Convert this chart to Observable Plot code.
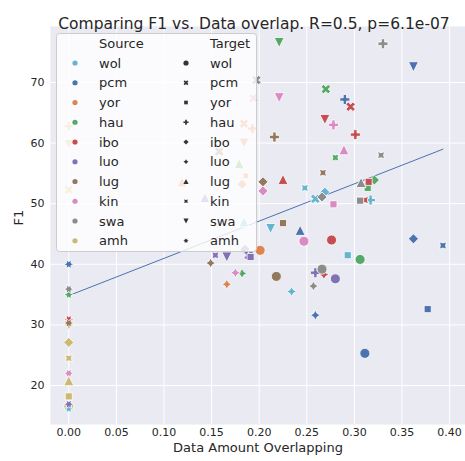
<!DOCTYPE html>
<html><head><meta charset="utf-8">
<script src="https://cdn.jsdelivr.net/npm/d3@7"></script>
<script src="https://cdn.jsdelivr.net/npm/@observablehq/plot@0.6"></script>
<style>body{margin:0;background:#fff;}</style>
</head><body><div id="chart"></div>
<script>
// ---- data ----
const sources = ["wol","pcm","yor","hau","ibo","luo","lug","kin","swa","amh"];
const targets = ["wol","pcm","yor","hau","ibo","luo","lug","kin","swa","amh"];
const sourceColors = ["#64B5CD","#4C72B0","#DD8452","#55A868","#C44E52","#8172B3","#937860","#DA8BC3","#8C8C8C","#CCB974"];
const xTicks = [0,0.05,0.10,0.15,0.20,0.25,0.30,0.35,0.40];
const yTicks = [20,30,40,50,60,70];
const titleText = "Comparing F1 vs. Data overlap. R=0.5, p=6.1e-07";
const xLabel = "Data Amount Overlapping";
const yLabel = "F1";

// points hidden under others at x = 0 (drawn first): [source, target, overlap, F1]
const hiddenAtZero = [["amh","wol",0,16.5],["yor","amh",0,30.6],["amh","luo",0,30.0]];

// [target, overlap, F1] per source language
const wol = [["amh",0,16.2],["swa",0.212,45.9],["kin",0.248,52.6],["pcm",0.259,50.8],["ibo",0.269,51.9],["hau",0.317,50.6],["yor",0.293,41.5],["luo",0.234,35.5],["lug",0.184,47.0]];
const pcm = [["amh",0,40.0],["swa",0.362,72.6],["hau",0.290,67.2],["lug",0.243,45.6],["ibo",0.362,44.2],["kin",0.393,43.1],["luo",0.259,31.6],["yor",0.377,32.6],["wol",0.311,25.3]];
const yor = [["pcm",0.184,63.2],["hau",0.193,62.4],["swa",0.184,60.0],["kin",0.186,54.6],["ibo",0.182,53.2],["lug",0.119,53.6],["wol",0.201,42.3],["luo",0.166,36.7]];
const hau = [["swa",0.221,76.6],["pcm",0.270,68.9],["lug",0.179,56.6],["kin",0.280,57.6],["ibo",0.321,53.9],["yor",0.314,52.6],["wol",0.306,40.8],["luo",0.182,38.5],["amh",0,35.0]];
const ibo = [["pcm",0.296,66.0],["swa",0.269,63.9],["hau",0.301,61.4],["lug",0.225,54.0],["yor",0.315,53.6],["kin",0.311,50.6],["wol",0.276,44.0],["luo",0.268,38.3],["amh",0,30.9]];
const luo = [["lug",0.143,51.0],["ibo",0.185,42.5],["kin",0.154,41.5],["swa",0.166,41.2],["pcm",0.189,41.5],["yor",0.191,41.2],["hau",0.259,38.6],["wol",0.280,37.6],["amh",0,16.9]];
const lug = [["hau",0.216,61.0],["kin",0.267,55.1],["ibo",0.204,53.6],["yor",0.225,46.8],["luo",0.149,40.2],["wol",0.218,38.0],["amh",0,30.3],["pcm",0.158,58.6]];
const kin = [["swa",0.221,67.5],["pcm",0.194,67.4],["hau",0.278,63.0],["lug",0.289,58.9],["ibo",0.204,52.1],["yor",0.278,49.9],["wol",0.247,43.8],["luo",0.175,38.6],["amh",0,22.0]];
const swa = [["hau",0.330,76.4],["pcm",0.197,70.4],["kin",0.328,58.0],["lug",0.307,53.5],["ibo",0.266,51.1],["yor",0.306,50.5],["wol",0.266,39.2],["luo",0.257,36.4],["amh",0,35.9]];
const amh = [["hau",0,62.8],["swa",0,59.8],["pcm",0,52.3],["ibo",0,27.1],["kin",0,24.5],["lug",0,20.8],["yor",0,18.2]];

const bySource = {wol, pcm, yor, hau, ibo, luo, lug, kin, swa, amh};
const points = hiddenAtZero.map(([s, t, x, y]) => ({source: s, target: t, overlap: x, f1: y}));
for (const s of sources) for (const [t, x, y] of bySource[s]) points.push({source: s, target: t, overlap: x, f1: y});

// ---- matplotlib-like marker symbols ----
function polySymbol(pts) {
  return {draw(ctx, size) {
    const r = Math.sqrt(size / Math.PI);
    pts.forEach(([x, y], i) => i ? ctx.lineTo(x * r, y * r) : ctx.moveTo(x * r, y * r));
    ctx.closePath();
  }};
}
function starPts(n, inner, rotDeg) {
  const pts = [];
  for (let i = 0; i < 2 * n; i++) {
    const a = Math.PI / 2 + i * Math.PI / n + rotDeg * Math.PI / 180;
    const rr = i % 2 ? inner : 1;
    pts.push([rr * Math.cos(a), -rr * Math.sin(a)]);
  }
  return pts;
}
const plusPts = [[-1,-3],[1,-3],[1,-1],[3,-1],[3,1],[1,1],[1,3],[-1,3],[-1,1],[-3,1],[-3,-1],[-1,-1]].map(([x, y]) => [x / 3, y / 3]);
const xPts = plusPts.map(([x, y]) => [(x - y) * Math.SQRT1_2, (x + y) * Math.SQRT1_2]);
const circleSym = {draw(ctx, size) { const r = Math.sqrt(size / Math.PI); ctx.moveTo(r, 0); ctx.arc(0, 0, r, 0, 2 * Math.PI); }};
const symbolsByTarget = [
  circleSym,                                   // wol  o
  polySymbol(xPts),                            // pcm  X
  polySymbol([[-0.7071,-0.7071],[0.7071,-0.7071],[0.7071,0.7071],[-0.7071,0.7071]]), // yor square
  polySymbol(plusPts),                         // hau  P
  polySymbol([[0,-1],[1,0],[0,1],[-1,0]]),     // ibo  diamond
  polySymbol(starPts(4, 0.5, 0)),              // luo  4-star
  polySymbol([[0,-1],[-1,1],[1,1]]),           // lug  ^
  polySymbol(starPts(4, 0.5, 45)),             // kin  4-star 45
  polySymbol([[0,1],[-1,-1],[1,-1]]),          // swa  v
  polySymbol(starPts(6, 0.5, 30))              // amh  6-star
];

const chart = Plot.plot({
  width: 465, height: 461,
  marginLeft: 50, marginRight: 0, marginTop: 26, marginBottom: 37,
  style: {fontFamily: "DejaVu Sans", fontSize: "11px", color: "#262626", background: "white"},
  x: {domain: [-0.0192, 0.4167]},
  y: {domain: [13.56, 79.24]},
  color: {domain: sources, range: sourceColors},
  symbol: {domain: targets, range: symbolsByTarget},
  marks: [
    Plot.frame({fill: "#EAEAF2", stroke: null}),
    Plot.gridX(xTicks, {stroke: "white", strokeOpacity: 1, strokeWidth: 1}),
    Plot.gridY(yTicks, {stroke: "white", strokeOpacity: 1, strokeWidth: 1}),
    Plot.axisX(xTicks, {tickSize: 0, tickPadding: 4, tickFormat: d3.format(".2f"), label: null}),
    Plot.axisY(yTicks, {tickSize: 0, tickPadding: 6, label: null}),
    Plot.linearRegressionY(points, {x: "overlap", y: "f1", ci: 0, stroke: "#4C72B0", strokeWidth: 1}),
    Plot.dot(points, {x: "overlap", y: "f1", fill: "source", symbol: "target", r: 5, stroke: "white", strokeWidth: 0.8}),
    Plot.text([titleText], {frameAnchor: "top", dy: -9, dx: -4, fontSize: 15.5, fill: "#262626"}),
    Plot.text([xLabel], {frameAnchor: "bottom", dy: 27, fontSize: 13, fill: "#262626"}),
    Plot.text([yLabel], {frameAnchor: "left", dx: -32, rotate: -90, fontSize: 13, fill: "#262626"})
  ]
});
document.getElementById("chart").appendChild(chart);

// ---- legend (inside the axes, upper left) ----
const svg = d3.select(chart);
const lg = svg.append("g").attr("font-family", "DejaVu Sans").attr("font-size", 13)
  .attr("fill", "#262626").attr("text-anchor", "start");
lg.append("rect").attr("x", 56.5).attr("y", 33.5).attr("width", 200).attr("height", 218).attr("rx", 3)
  .attr("fill", "white").attr("fill-opacity", 0.8).attr("stroke", "#cccccc").attr("stroke-width", 1);
const rowY = i => 63 + i * 19.75;
lg.append("text").attr("x", 99).attr("y", 43).attr("dy", "0.35em").text("Source");
lg.append("text").attr("x", 210).attr("y", 43).attr("dy", "0.35em").text("Target");
const lsize = Math.PI * 2.6 * 2.6;
sources.forEach((s, i) => {
  lg.append("path").attr("transform", `translate(75,${rowY(i)})`).attr("d", d3.symbol(circleSym, lsize)()).attr("fill", sourceColors[i]);
  lg.append("text").attr("x", 99).attr("y", rowY(i)).attr("dy", "0.35em").text(s);
});
targets.forEach((t, i) => {
  lg.append("path").attr("transform", `translate(186,${rowY(i)})`).attr("d", d3.symbol(symbolsByTarget[i], lsize)()).attr("fill", "#333333");
  lg.append("text").attr("x", 210).attr("y", rowY(i)).attr("dy", "0.35em").text(t);
});
</script>
</body></html>
